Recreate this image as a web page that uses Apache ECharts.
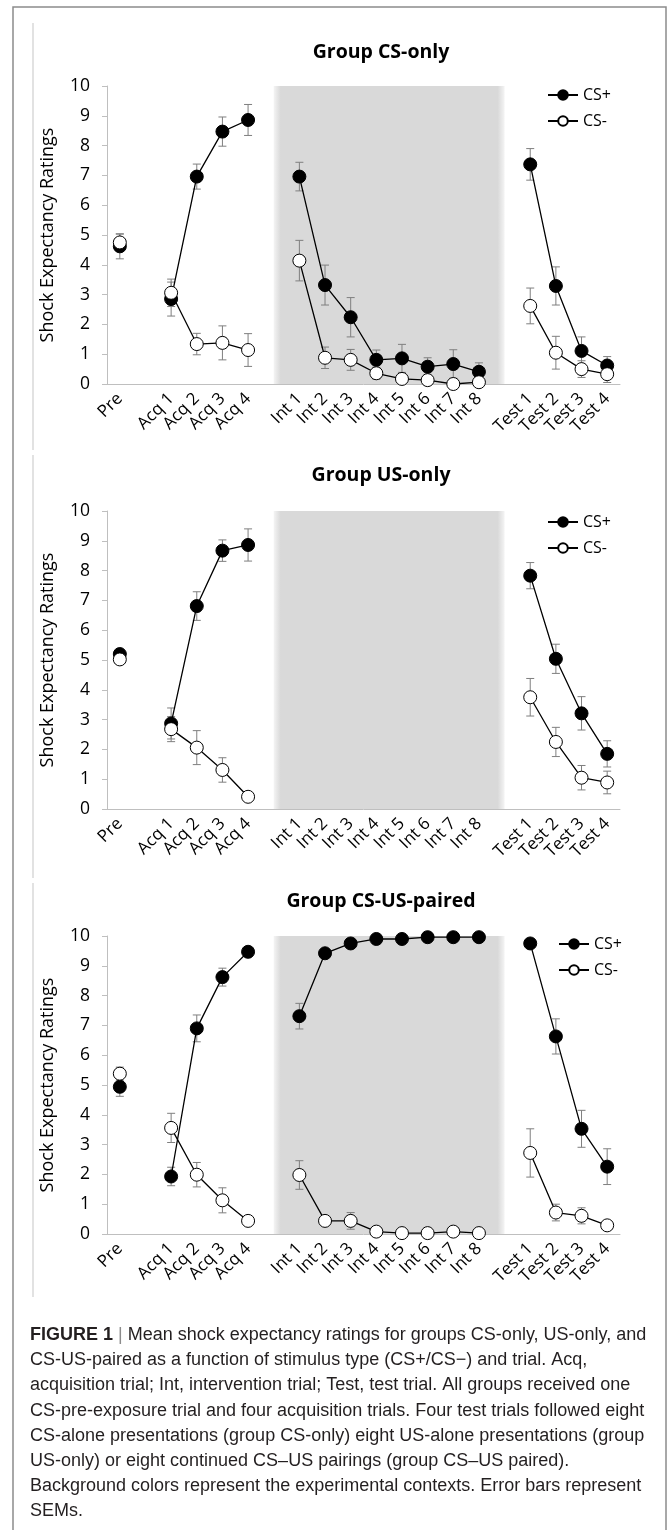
<!DOCTYPE html>
<html>
<head>
<meta charset="utf-8">
<script src="https://cdn.jsdelivr.net/npm/echarts@6.0.0/dist/echarts.min.js"></script>
<style>
html, body { margin: 0; padding: 0; background: #fff; }
#chart { width: 669px; height: 1530px; }
</style>
</head>
<body>
<div id="chart"></div>
<script>
// trial categories, the gapN entries are the empty slots between phases
const trials = ['Pre', 'gap1', 'Acq 1', 'Acq 2', 'Acq 3', 'Acq 4', 'gap2',
    'Int 1', 'Int 2', 'Int 3', 'Int 4', 'Int 5', 'Int 6', 'Int 7', 'Int 8', 'gap3',
    'Test 1', 'Test 2', 'Test 3', 'Test 4']

// Group CS-only
const csOnlyPlus = [4.62, null, 2.85, 6.96, 8.47, 8.86, null, 6.96, 3.32, 2.24, 0.81, 0.86, 0.58, 0.67, 0.41, null, 7.37, 3.29, 1.11, 0.62]
const csOnlyPlusSem = [0.42, null, 0.57, 0.42, 0.49, 0.52, null, 0.48, 0.67, 0.66, 0.33, 0.47, 0.3, 0.48, 0.3, null, 0.53, 0.64, 0.47, 0.3]
const csOnlyMinus = [4.75, null, 3.06, 1.34, 1.38, 1.14, null, 4.14, 0.88, 0.81, 0.36, 0.17, 0.13, 0.0, 0.06, null, 2.62, 1.05, 0.5, 0.33]
const csOnlyMinusSem = [0.28, null, 0.46, 0.36, 0.57, 0.55, null, 0.68, 0.36, 0.35, 0.2, 0.12, 0.14, 0.1, 0.08, null, 0.6, 0.55, 0.28, 0.28]

// Group US-only
const usOnlyPlus = [5.2, null, 2.87, 6.81, 8.67, 8.86, null, null, null, null, null, null, null, null, null, null, 7.83, 5.04, 3.21, 1.85]
const usOnlyPlusSem = [0.05, null, 0.52, 0.48, 0.36, 0.54, null, null, null, null, null, null, null, null, null, null, 0.44, 0.49, 0.56, 0.44]
const usOnlyMinus = [5.02, null, 2.68, 2.06, 1.31, 0.41, null, null, null, null, null, null, null, null, null, null, 3.75, 2.25, 1.05, 0.89]
const usOnlyMinusSem = [0.05, null, 0.42, 0.57, 0.41, 0.1, null, null, null, null, null, null, null, null, null, null, 0.63, 0.49, 0.41, 0.38]

// Group CS-US-paired
const pairedPlus = [4.94, null, 1.93, 6.9, 8.62, 9.47, null, 7.31, 9.42, 9.75, 9.9, 9.9, 9.96, 9.96, 9.96, null, 9.75, 6.63, 3.53, 2.26]
const pairedPlusSem = [0.32, null, 0.31, 0.45, 0.3, 0.1, null, 0.43, 0.15, 0.1, 0.05, 0.05, 0.04, 0.04, 0.04, null, 0.1, 0.59, 0.62, 0.6]
const pairedMinus = [5.38, null, 3.56, 1.99, 1.13, 0.44, null, 1.98, 0.44, 0.44, 0.08, 0.03, 0.03, 0.08, 0.03, null, 2.72, 0.72, 0.61, 0.29]
const pairedMinusSem = [0.22, null, 0.49, 0.41, 0.42, 0.15, null, 0.48, 0.12, 0.28, 0.05, 0.03, 0.03, 0.05, 0.03, null, 0.81, 0.28, 0.27, 0.1]

const captionLines = [
    '{b|FIGURE 1} {g||} Mean shock expectancy ratings for groups CS-only, US-only, and',
    'CS-US-paired as a function of stimulus type (CS+/CS\u2212) and trial. Acq,',
    'acquisition trial; Int, intervention trial; Test, test trial. All groups received one',
    'CS-pre-exposure trial and four acquisition trials. Four test trials followed eight',
    'CS-alone presentations (group CS-only) eight US-alone presentations (group',
    'US-only) or eight continued CS\u2013US pairings (group CS\u2013US paired).',
    'Background colors represent the experimental contexts. Error bars represent',
    'SEMs.'
]

const font = 'Open Sans'
const capFont = 'Liberation Sans'

const panels = [
    { title: 'Group CS-only', titleY: 52, top: 86, legendLeft: 547, legendTop: 87, frame: [23, 450],
      plus: csOnlyPlus, plusSem: csOnlyPlusSem, minus: csOnlyMinus, minusSem: csOnlyMinusSem },
    { title: 'Group US-only', titleY: 475, top: 511, legendLeft: 547, legendTop: 514, frame: [455, 878],
      plus: usOnlyPlus, plusSem: usOnlyPlusSem, minus: usOnlyMinus, minusSem: usOnlyMinusSem },
    { title: 'Group CS-US-paired', titleY: 901, top: 936, legendLeft: 558, legendTop: 936, frame: [883, 1297],
      plus: pairedPlus, plusSem: pairedPlusSem, minus: pairedMinus, minusSem: pairedMinusSem }
]

function errData(vals, sems) {
    let out = []
    vals.forEach((v, i) => {
        if (v != null) out.push([i, Math.max(0, v - sems[i]), v + sems[i]])
    })
    return out
}

function renderErr(params, api) {
    let x = api.value(0)
    let top = api.coord([x, api.value(2)])
    let bot = api.coord([x, api.value(1)])
    let hw = 4
    let style = { stroke: '#7f7f7f', lineWidth: 1 }
    return {
        type: 'group',
        children: [
            { type: 'line', shape: { x1: top[0], y1: top[1], x2: bot[0], y2: bot[1] }, style: style },
            { type: 'line', shape: { x1: top[0] - hw, y1: top[1], x2: top[0] + hw, y2: top[1] }, style: style },
            { type: 'line', shape: { x1: bot[0] - hw, y1: bot[1], x2: bot[0] + hw, y2: bot[1] }, style: style }
        ]
    }
}

let shade = {
    type: 'linear', x: 0, y: 0, x2: 1, y2: 0,
    colorStops: [
        { offset: 0, color: '#f4f4f4' },
        { offset: 0.03, color: '#d9d9d9' },
        { offset: 0.97, color: '#d9d9d9' },
        { offset: 1, color: '#f4f4f4' }
    ]
}

let grids = [], xAxes = [], yAxes = [], series = [], legends = []
let graphics = [
    { type: 'rect', shape: { x: 13, y: 7, width: 653, height: 1600 }, style: { fill: 'none', stroke: '#8c8c8c', lineWidth: 1.5 }, silent: true }
]

panels.forEach((p, i) => {
    grids.push({ left: 107, width: 513, top: p.top, height: 298 })
    xAxes.push({
        type: 'category', gridIndex: i, data: trials, boundaryGap: true,
        axisLine: { lineStyle: { color: '#bfbfbf' } },
        axisTick: { interval: 0, length: 5, lineStyle: { color: '#bfbfbf' } },
        axisLabel: {
            interval: 0, rotate: 45, margin: 12, color: '#000', fontFamily: font, fontSize: 17,
            formatter: v => v.startsWith('gap') ? '' : v
        }
    })
    yAxes.push({
        type: 'value', gridIndex: i, min: 0, max: 10, interval: 1,
        name: 'Shock Expectancy Ratings', nameLocation: 'middle', nameGap: 50,
        nameTextStyle: { fontFamily: font, fontSize: 18, color: '#000' },
        axisLine: { show: true, lineStyle: { color: '#bfbfbf' } },
        axisTick: { show: true, length: 5, lineStyle: { color: '#bfbfbf' } },
        splitLine: { show: false },
        axisLabel: { margin: 17, color: '#000', fontFamily: font, fontSize: 17.5 }
    })
    // background shading for the intervention context
    series.push({
        type: 'line', name: 'shade', xAxisIndex: i, yAxisIndex: i, data: [], z: 0, silent: true,
        markArea: { silent: true, itemStyle: { color: shade }, data: [[{ xAxis: 'gap2' }, { xAxis: 'gap3' }]] }
    })
    series.push({
        type: 'custom', name: 'CS+ SEM', xAxisIndex: i, yAxisIndex: i, z: 2, silent: true,
        data: errData(p.plus, p.plusSem), renderItem: renderErr, encode: { x: 0, y: [1, 2] }
    })
    series.push({
        type: 'custom', name: 'CS- SEM', xAxisIndex: i, yAxisIndex: i, z: 2, silent: true,
        data: errData(p.minus, p.minusSem), renderItem: renderErr, encode: { x: 0, y: [1, 2] }
    })
    series.push({
        type: 'line', name: 'CS+', xAxisIndex: i, yAxisIndex: i, data: p.plus, z: 3,
        symbol: 'circle', symbolSize: 13, showAllSymbol: true, connectNulls: false,
        lineStyle: { color: '#000', width: 1.3 },
        itemStyle: { color: '#000', borderColor: '#000', borderWidth: 1 }
    })
    series.push({
        type: 'line', name: 'CS-', xAxisIndex: i, yAxisIndex: i, data: p.minus, z: 4,
        symbol: 'circle', symbolSize: 13, showAllSymbol: true, connectNulls: false,
        lineStyle: { color: '#000', width: 1.3 },
        itemStyle: { color: '#fff', borderColor: '#000', borderWidth: 1 }
    })
    legends.push({
        data: ['CS+', 'CS-'], orient: 'vertical', left: p.legendLeft, top: p.legendTop,
        itemWidth: 30, itemHeight: 12, itemGap: 10, selectedMode: false, padding: 0,
        textStyle: { fontFamily: font, fontSize: 16, color: '#000' }
    })
    graphics.push({ type: 'line', shape: { x1: 33, y1: p.frame[0], x2: 33, y2: p.frame[1] }, style: { stroke: '#d9d9d9', lineWidth: 1.5 }, silent: true })
    graphics.push({
        type: 'text', x: 381, y: p.titleY, silent: true,
        style: { text: p.title, align: 'center', verticalAlign: 'middle', fontFamily: font, fontWeight: 'bold', fontSize: 19.5, fill: '#000' }
    })
})

captionLines.forEach((line, i) => {
    graphics.push({
        type: 'text', x: 30, y: 1335 + i * 25.2, silent: true,
        style: {
            text: line, verticalAlign: 'middle', fontFamily: capFont, fontSize: 18, fill: '#231f20',
            rich: {
                b: { fontFamily: capFont, fontSize: 18, fontWeight: 'bold', fill: '#231f20' },
                g: { fontFamily: capFont, fontSize: 18, fill: '#8c8c8c' }
            }
        }
    })
})

let option = {
    animation: false,
    backgroundColor: '#fff',
    grid: grids,
    xAxis: xAxes,
    yAxis: yAxes,
    legend: legends,
    series: series,
    graphic: graphics
}

var myChart = echarts.init(document.getElementById('chart'))
myChart.setOption(option)
window.addEventListener('resize', function() {
    myChart.resize()
})
</script>
</body>
</html>
